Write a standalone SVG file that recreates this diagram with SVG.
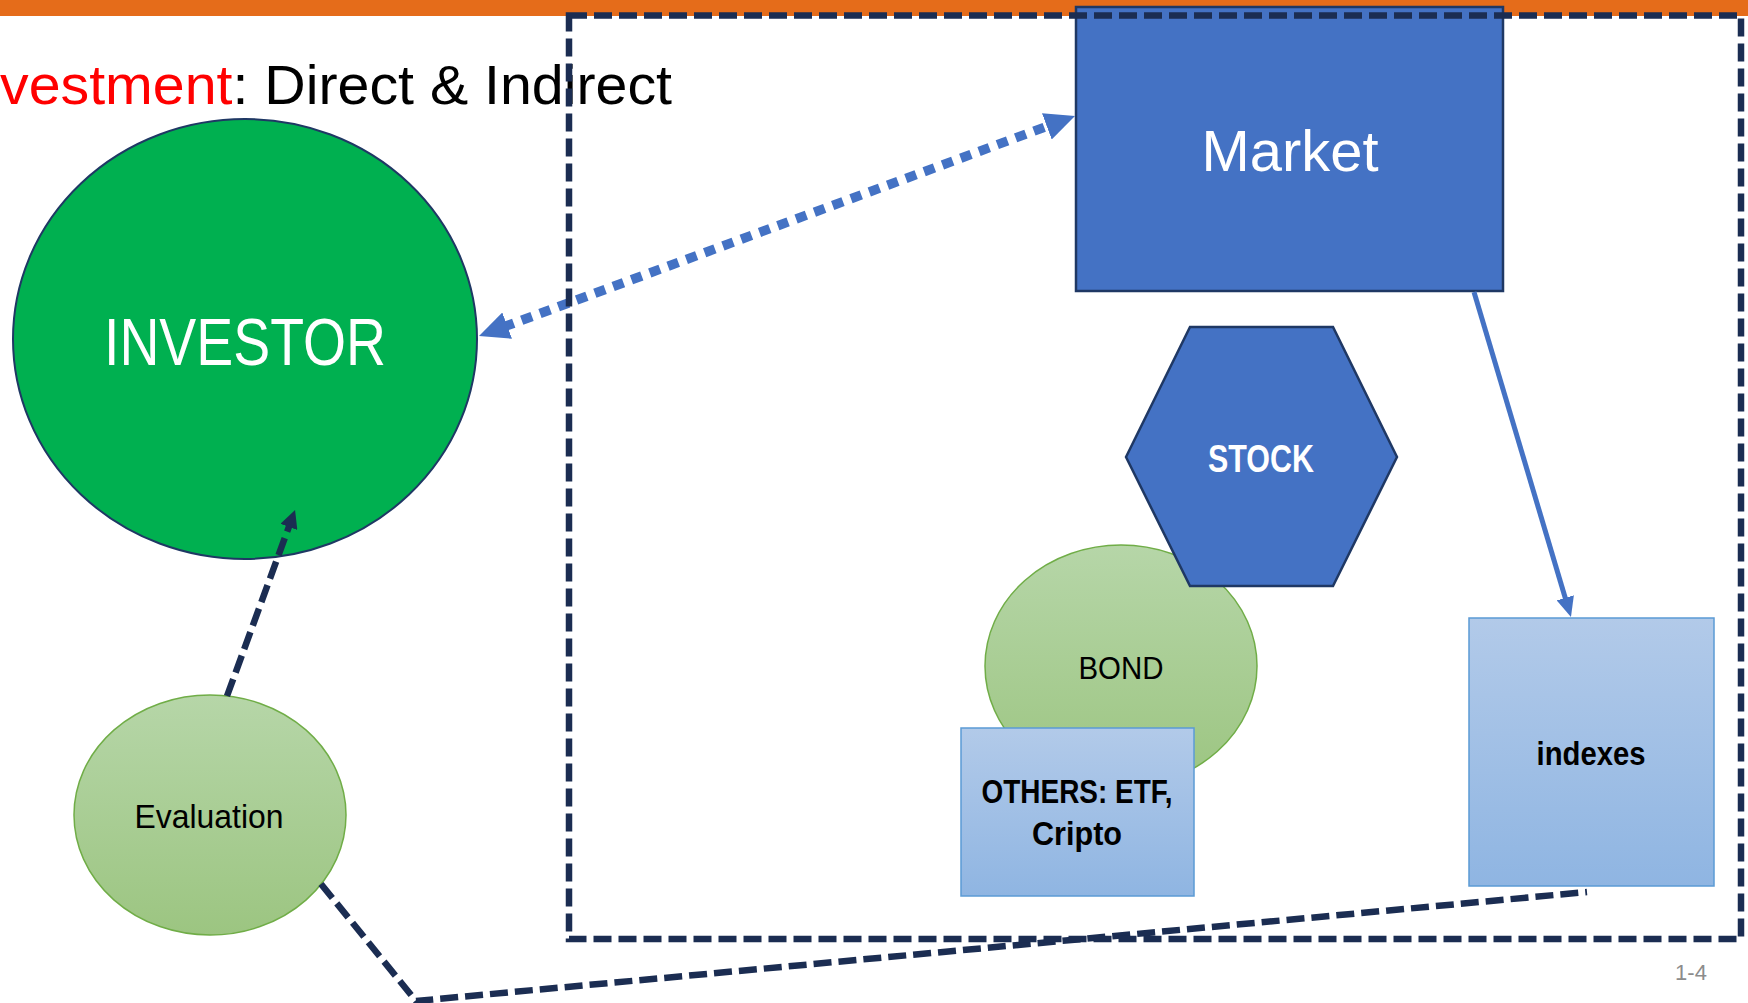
<svg xmlns="http://www.w3.org/2000/svg" width="1748" height="1003" viewBox="0 0 1748 1003">
<defs>
<style>
text{font-family:"Liberation Sans",Arial,sans-serif;}
.navy{fill:none;stroke:#1B2D52;stroke-width:6.5;stroke-dasharray:18 7;}
.lbl{fill:#000;text-anchor:middle;}
.wht{fill:#fff;text-anchor:middle;}
.b{font-weight:bold;}
</style>
<linearGradient id="gGreen" x1="0" y1="0" x2="0" y2="1">
<stop offset="0" stop-color="#B6D6A8"/><stop offset="1" stop-color="#9CC581"/>
</linearGradient>
<linearGradient id="gBlue" x1="0" y1="0" x2="0" y2="1">
<stop offset="0" stop-color="#B2CAE9"/><stop offset="1" stop-color="#8FB5E2"/>
</linearGradient>
<marker id="mBlueBig" markerUnits="userSpaceOnUse" markerWidth="30" markerHeight="28" refX="4" refY="14" orient="auto-start-reverse" viewBox="0 0 30 28">
<path d="M0,0 L30,14 L0,28 z" fill="#4472C4"/>
</marker>
<marker id="mBlue" markerUnits="userSpaceOnUse" markerWidth="20" markerHeight="18" refX="3" refY="9" orient="auto" viewBox="0 0 20 18">
<path d="M0,0 L20,9 L0,18 z" fill="#4472C4"/>
</marker>
<marker id="mNavy" markerUnits="userSpaceOnUse" markerWidth="18" markerHeight="18" refX="3" refY="9" orient="auto" viewBox="0 0 18 18">
<path d="M0,0 L18,9 L0,18 z" fill="#1B2D52"/>
</marker>
</defs>
<rect x="0" y="0" width="1748" height="16" fill="#E56C1A"/>
<text id="title" x="0" y="104" font-size="56" textLength="672" lengthAdjust="spacingAndGlyphs"><tspan fill="#FF0000">vestment</tspan><tspan fill="#000">: Direct &amp; Indirect</tspan></text>
<g id="investor">
<ellipse cx="245" cy="339" rx="232" ry="220" fill="#00B050" stroke="#1F3864" stroke-width="2"/>
<text class="wht" x="245" y="365" font-size="66" textLength="282" lengthAdjust="spacingAndGlyphs">INVESTOR</text>
</g>
<g id="evaluation">
<ellipse cx="210" cy="815" rx="136" ry="120" fill="url(#gGreen)" stroke="#70AD47" stroke-width="1.5"/>
<text class="lbl" x="209" y="828" font-size="33" textLength="149" lengthAdjust="spacingAndGlyphs">Evaluation</text>
</g>
<g id="bond">
<ellipse cx="1121" cy="666" rx="136" ry="121" fill="url(#gGreen)" stroke="#70AD47" stroke-width="1.5"/>
<text class="lbl" x="1121" y="679" font-size="31" textLength="85" lengthAdjust="spacingAndGlyphs">BOND</text>
</g>
<g id="stock">
<polygon points="1126,457 1190,327 1333,327 1397,457 1333,586 1190,586" fill="#4472C4" stroke="#1F3864" stroke-width="2.5"/>
<text class="wht b" x="1261" y="472" font-size="38" textLength="106" lengthAdjust="spacingAndGlyphs">STOCK</text>
</g>
<g id="others">
<rect x="961" y="728" width="233" height="168" fill="url(#gBlue)" stroke="#5B9BD5" stroke-width="1.5"/>
<text class="lbl b" x="1077" y="803" font-size="33" textLength="191" lengthAdjust="spacingAndGlyphs">OTHERS: ETF,</text>
<text class="lbl b" x="1077" y="845" font-size="33" textLength="90" lengthAdjust="spacingAndGlyphs">Cripto</text>
</g>
<g id="indexes">
<rect x="1469" y="618" width="245" height="268" fill="url(#gBlue)" stroke="#5B9BD5" stroke-width="1.5"/>
<text class="lbl b" x="1591" y="765" font-size="33" textLength="109" lengthAdjust="spacingAndGlyphs">indexes</text>
</g>
<g id="market">
<rect x="1076" y="7" width="427" height="284" fill="#4472C4" stroke="#1F3864" stroke-width="2.5"/>
<text class="wht" x="1290" y="171" font-size="57" textLength="177" lengthAdjust="spacingAndGlyphs">Market</text>
</g>
<g id="connectors">
<line x1="503.4" y1="327" x2="1050.6" y2="125" stroke="#4472C4" stroke-width="9.5" stroke-dasharray="11 8.5" marker-start="url(#mBlueBig)" marker-end="url(#mBlueBig)"/>
<line x1="1474" y1="292" x2="1566.1" y2="600.7" stroke="#4472C4" stroke-width="5" marker-end="url(#mBlue)"/>
<line class="navy" x1="227" y1="696" x2="289.9" y2="524.1" marker-end="url(#mNavy)"/>
<polyline class="navy" points="321,884 416,1001 1587,892"/>
</g>
<g id="container">
<rect class="navy" x="569" y="15.5" width="1172" height="923.5"/>
</g>
<text id="page" x="1691" y="980" font-size="22" fill="#8C8C8C" text-anchor="middle">1-4</text>
</svg>
